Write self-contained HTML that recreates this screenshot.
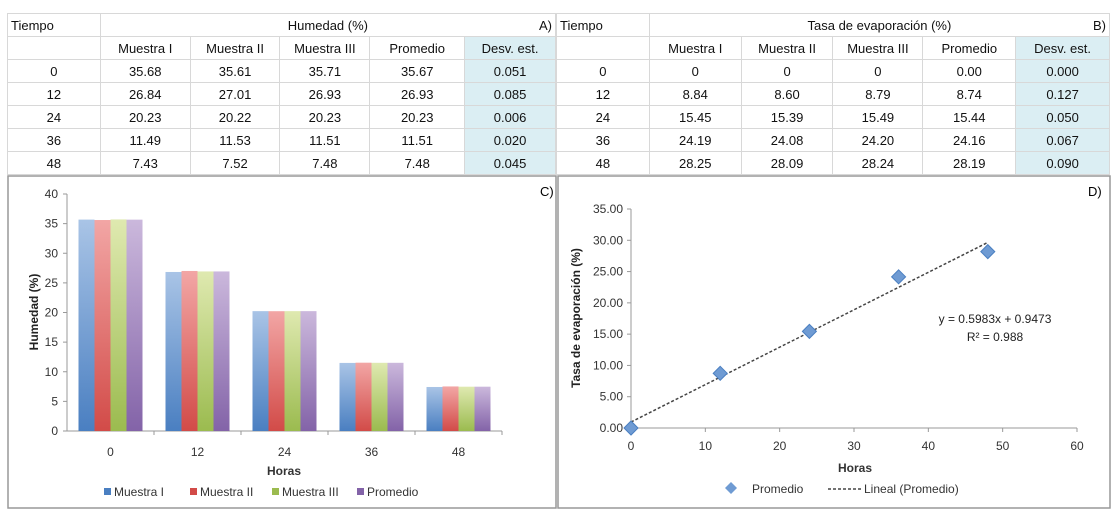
<!DOCTYPE html>
<html><head><meta charset="utf-8">
<style>
body{margin:0;width:1118px;height:532px;background:#fff;font-family:"Liberation Sans",sans-serif;overflow:hidden;position:relative}
table{position:absolute;border-collapse:collapse;font-size:13px;color:#111}
td{border:1px solid #d8d8d8;text-align:center;padding:0;height:22px}
td.sd{background:#dbeef3}
</style></head><body>
<table style="left:7px;top:13px;width:549px">
<colgroup><col style="width:93px"><col style="width:90px"><col style="width:90px"><col style="width:90px"><col style="width:95px"><col style="width:91px"></colgroup>
<tr><td style="text-align:left;padding-left:3px">Tiempo</td><td colspan="5" style="position:relative">Humedad (%)<span style="position:absolute;right:3px">A)</span></td></tr>
<tr><td></td><td>Muestra I</td><td>Muestra II</td><td>Muestra III</td><td>Promedio</td><td class="sd">Desv. est.</td></tr>
<tr><td>0</td><td>35.68</td><td>35.61</td><td>35.71</td><td>35.67</td><td class="sd">0.051</td></tr>
<tr><td>12</td><td>26.84</td><td>27.01</td><td>26.93</td><td>26.93</td><td class="sd">0.085</td></tr>
<tr><td>24</td><td>20.23</td><td>20.22</td><td>20.23</td><td>20.23</td><td class="sd">0.006</td></tr>
<tr><td>36</td><td>11.49</td><td>11.53</td><td>11.51</td><td>11.51</td><td class="sd">0.020</td></tr>
<tr><td>48</td><td>7.43</td><td>7.52</td><td>7.48</td><td>7.48</td><td class="sd">0.045</td></tr>
</table>
<table style="left:556px;top:13px;width:554px">
<colgroup><col style="width:93px"><col style="width:92px"><col style="width:92px"><col style="width:90px"><col style="width:93px"><col style="width:94px"></colgroup>
<tr><td style="text-align:left;padding-left:3px">Tiempo</td><td colspan="5" style="position:relative">Tasa de evaporación (%)<span style="position:absolute;right:3px">B)</span></td></tr>
<tr><td></td><td>Muestra I</td><td>Muestra II</td><td>Muestra III</td><td>Promedio</td><td class="sd">Desv. est.</td></tr>
<tr><td>0</td><td>0</td><td>0</td><td>0</td><td>0.00</td><td class="sd">0.000</td></tr>
<tr><td>12</td><td>8.84</td><td>8.60</td><td>8.79</td><td>8.74</td><td class="sd">0.127</td></tr>
<tr><td>24</td><td>15.45</td><td>15.39</td><td>15.49</td><td>15.44</td><td class="sd">0.050</td></tr>
<tr><td>36</td><td>24.19</td><td>24.08</td><td>24.20</td><td>24.16</td><td class="sd">0.067</td></tr>
<tr><td>48</td><td>28.25</td><td>28.09</td><td>28.24</td><td>28.19</td><td class="sd">0.090</td></tr>
</table>
<svg id="svg" width="1118" height="532" style="position:absolute;left:0;top:0" font-family="Liberation Sans, sans-serif">
<defs>
<linearGradient id="g0" x1="0" y1="0" x2="0" y2="1"><stop offset="0" stop-color="#a9c4e6"/><stop offset="1" stop-color="#4a7fc1"/></linearGradient>
<linearGradient id="g1" x1="0" y1="0" x2="0" y2="1"><stop offset="0" stop-color="#f2a6a5"/><stop offset="1" stop-color="#d24b48"/></linearGradient>
<linearGradient id="g2" x1="0" y1="0" x2="0" y2="1"><stop offset="0" stop-color="#dfe9b0"/><stop offset="1" stop-color="#9bbb4f"/></linearGradient>
<linearGradient id="g3" x1="0" y1="0" x2="0" y2="1"><stop offset="0" stop-color="#cbb8dc"/><stop offset="1" stop-color="#8363a8"/></linearGradient>
</defs>
<rect x="8" y="176" width="548" height="332" fill="none" stroke="#999" stroke-width="1.5"/>
<rect x="558" y="176" width="552" height="332" fill="none" stroke="#999" stroke-width="1.5"/>
<text x="540" y="196" font-size="13">C)</text>
<text x="1088" y="196" font-size="13">D)</text>
<g id="c"></g><g id="d"></g>
</svg>
<script>
const categories=["0","12","24","36","48"];
const series=["Muestra I","Muestra II","Muestra III","Promedio"];
const m1=[35.68,26.84,20.23,11.49,7.43];
const m2=[35.61,27.01,20.22,11.53,7.52];
const m3=[35.71,26.93,20.23,11.51,7.48];
const prom=[35.67,26.93,20.23,11.51,7.48];
const yTicksC=[0,5,10,15,20,25,30,35,40];
const hours=[0,12,24,36,48];
const evap=[0.00,8.74,15.44,24.16,28.19];
const slope=0.5983, intercept=0.9473;
const xTicksD=[0,10,20,30,40,50,60];
const yTicksD=[0,5,10,15,20,25,30,35];
const NS="http://www.w3.org/2000/svg";
function mk(p,tag,a,txt){const e=document.createElementNS(NS,tag);for(const k in a)e.setAttribute(k,a[k]);if(txt!==undefined)e.textContent=txt;p.appendChild(e);return e;}
// Chart C
const c=document.getElementById('c');
const cx0=67,cx1=502,cy0=431,cy1=194;
const yC=v=>cy0-(v/40)*(cy0-cy1);
const bw=(cx1-cx0)/categories.length;
let e;
e=mk(c,'line',{x1:cx0,y1:cy1,x2:cx0,y2:cy0,stroke:'#999'});


e=mk(c,'line',{x1:cx0,y1:cy0,x2:cx1,y2:cy0,stroke:'#999'});


yTicksC.forEach(t=>{mk(c,'line',{x1:cx0-4,y1:yC(t),x2:cx0,y2:yC(t),stroke:'#999'});
e=mk(c,'text',{x:cx0-9,y:yC(t)+4,'font-size':12,'text-anchor':'end',fill:'#333'},t);

});
const allS=[m1,m2,m3,prom];
categories.forEach((cat,i)=>{
 const gx=cx0+i*bw;
 mk(c,'line',{x1:gx+bw,y1:cy0,x2:gx+bw,y2:cy0+4,stroke:'#999'});
 e=mk(c,'text',{x:gx+bw/2,y:cy0+25,'font-size':12,'text-anchor':'middle',fill:'#333'},cat);
 
 
 const w=16;const st=gx+bw/2-2*w;
 allS.forEach((s,j)=>{
  e=mk(c,'rect',{x:st+j*w,y:yC(s[i]),width:w,height:cy0-yC(s[i]),fill:'url(#g'+j+')'});
  
  
 });
});
e=mk(c,'text',{x:284,y:475,'font-size':12,'font-weight':'bold','text-anchor':'middle',fill:'#333'},'Horas');


e=mk(c,'text',{x:0,y:0,'font-size':12,'font-weight':'bold','text-anchor':'middle',fill:'#222',transform:'translate(38,312) rotate(-90)'},'Humedad (%)');


const legX=[104,190,272,357];
const legC=['#4a7fc1','#d24b48','#9bbb4f','#8363a8'];
series.forEach((s,j)=>{
 e=mk(c,'rect',{x:legX[j],y:488,width:7,height:7,fill:legC[j]});
 
 
 e=mk(c,'text',{x:legX[j]+10,y:496,'font-size':12,fill:'#333'},s);
 
 
});
// Chart D
const d=document.getElementById('d');
const dx0=631,dx1=1077,dy0=428,dy1=209;
const xD=v=>dx0+(v/60)*(dx1-dx0);
const yD=v=>dy0-(v/35)*(dy0-dy1);
e=mk(d,'line',{x1:dx0,y1:dy1,x2:dx0,y2:dy0,stroke:'#999'});


e=mk(d,'line',{x1:dx0,y1:dy0,x2:dx1,y2:dy0,stroke:'#999'});


yTicksD.forEach(t=>{mk(d,'line',{x1:dx0-4,y1:yD(t),x2:dx0,y2:yD(t),stroke:'#999'});
e=mk(d,'text',{x:dx0-8,y:yD(t)+4,'font-size':12,'text-anchor':'end',fill:'#333'},t.toFixed(2));

});
xTicksD.forEach(t=>{mk(d,'line',{x1:xD(t),y1:dy0,x2:xD(t),y2:dy0+4,stroke:'#999'});
e=mk(d,'text',{x:xD(t),y:dy0+22,'font-size':12,'text-anchor':'middle',fill:'#333'},t);

});
const xs=hours[0],xe=hours[hours.length-1];
e=mk(d,'line',{x1:xD(xs),y1:yD(slope*xs+intercept),x2:xD(xe),y2:yD(slope*xe+intercept),stroke:'#444','stroke-width':1.5,'stroke-dasharray':'3,2'});


hours.forEach((h,i)=>{
 const px=xD(h),py=yD(evap[i]);
 e=mk(d,'polygon',{points:`${px},${py-7} ${px+7},${py} ${px},${py+7} ${px-7},${py}`,fill:'#6f9bd3',stroke:'#4a7fc1'});
 
 
});
e=mk(d,'text',{x:995,y:323,'font-size':12,'text-anchor':'middle',fill:'#222'},'y = 0.5983x + 0.9473');


e=mk(d,'text',{x:995,y:341,'font-size':12,'text-anchor':'middle',fill:'#222'},'R² = 0.988');


e=mk(d,'text',{x:855,y:472,'font-size':12,'font-weight':'bold','text-anchor':'middle',fill:'#333'},'Horas');


e=mk(d,'text',{x:0,y:0,'font-size':12,'font-weight':'bold','text-anchor':'middle',fill:'#222',transform:'translate(580,318) rotate(-90)'},'Tasa de evaporación (%)');


e=mk(d,'polygon',{points:'731,482 737,488 731,494 725,488',fill:'#6f9bd3'});


e=mk(d,'text',{x:752,y:493,'font-size':12,fill:'#333'},'Promedio');


e=mk(d,'line',{x1:828,y1:489,x2:862,y2:489,stroke:'#444','stroke-dasharray':'3,2','stroke-width':1.5});


e=mk(d,'text',{x:864,y:493,'font-size':12,fill:'#333'},'Lineal (Promedio)');


</script>
</body></html>
